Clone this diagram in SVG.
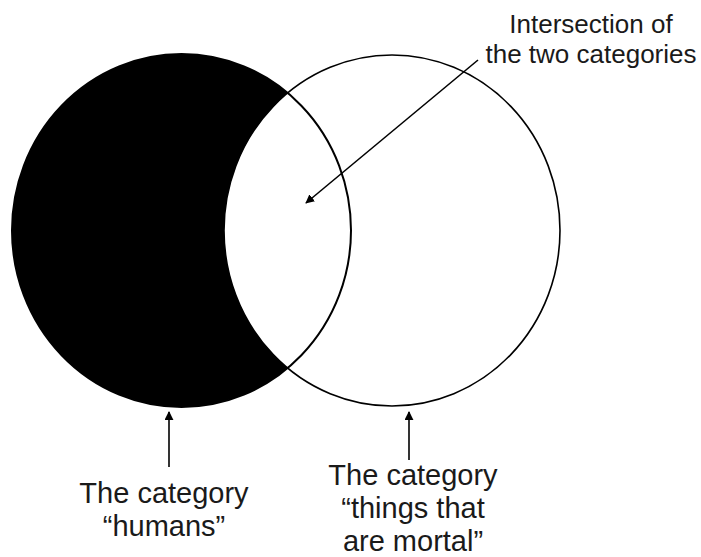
<svg xmlns="http://www.w3.org/2000/svg" width="701" height="557" viewBox="0 0 701 557">
<defs>
<style>
text{font-family:"Liberation Sans",Arial,sans-serif;fill:#1a1a1a;text-anchor:middle}
.t1{font-size:26px}
.t2{font-size:29px}
.cn{stroke:#000;stroke-width:1.6;fill:none}
</style>
<marker id="ah" viewBox="0 0 10 10" refX="9" refY="5" markerWidth="9" markerHeight="9" markerUnits="userSpaceOnUse" orient="auto">
<path d="M0,0 L10,5 L0,10 Z" fill="#000"/>
</marker>
</defs>
<rect width="701" height="557" fill="#fff"/>
<g id="humans">
<ellipse cx="181.5" cy="230.5" rx="169.5" ry="176.5" fill="#000"/>
</g>
<g id="mortal">
<ellipse cx="392" cy="230.5" rx="168" ry="175.5" fill="#fff" stroke="#000" stroke-width="1.6"/>
</g>
<g id="humans-outline">
<ellipse cx="181.5" cy="230.5" rx="169.5" ry="176.5" fill="none" stroke="#000" stroke-width="2"/>
</g>
<g id="label-intersection">
<text class="t1" x="591" y="33">Intersection of</text>
<text class="t1" x="591" y="63">the two categories</text>
</g>
<g id="label-humans">
<text class="t2" x="164" y="503">The category</text>
<text class="t2" x="164" y="536">“humans”</text>
</g>
<g id="label-mortal">
<text class="t2" x="413" y="485">The category</text>
<text class="t2" x="413" y="518">“things that</text>
<text class="t2" x="413" y="551">are mortal”</text>
</g>
<g id="connectors">
<line class="cn" x1="478" y1="60" x2="306" y2="203" marker-end="url(#ah)"/>
<line class="cn" x1="169" y1="467" x2="169" y2="412" marker-end="url(#ah)"/>
<line class="cn" x1="409" y1="460" x2="409" y2="412" marker-end="url(#ah)"/>
</g>
</svg>
